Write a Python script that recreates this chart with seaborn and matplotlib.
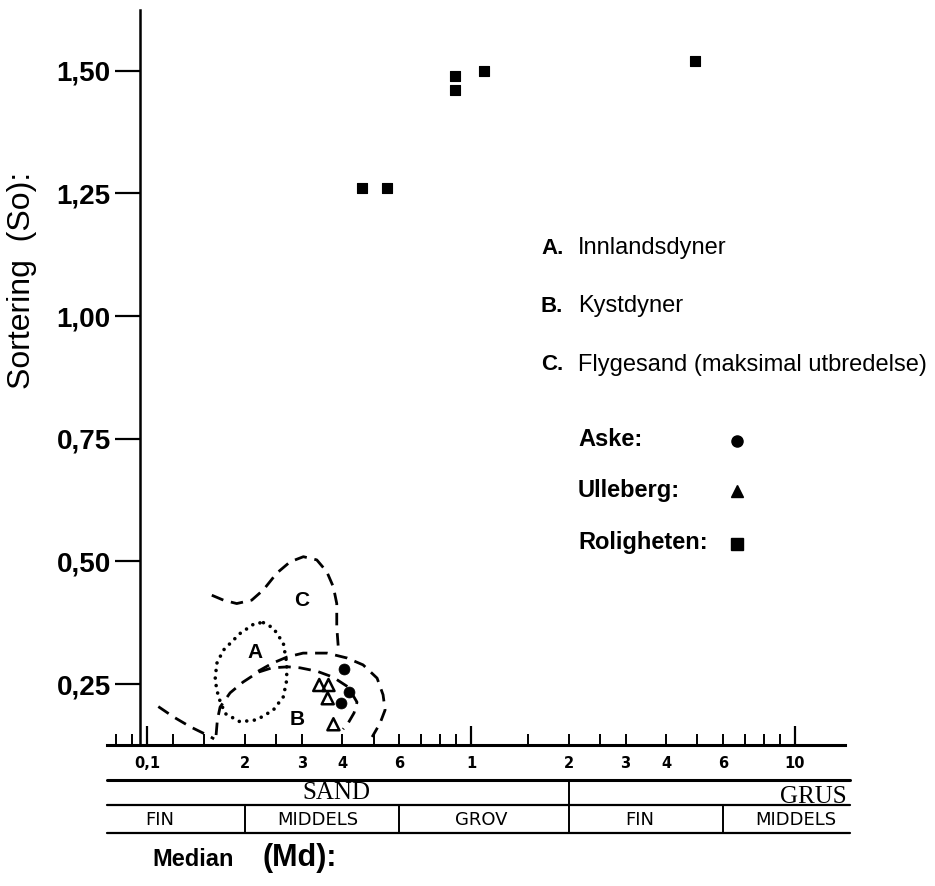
import numpy as np
import pandas as pd
import matplotlib
matplotlib.use("Agg")
import matplotlib.pyplot as plt
import matplotlib.transforms as mtransforms
from matplotlib.lines import Line2D
from matplotlib.ticker import FixedLocator, FuncFormatter
import seaborn as sns

# ---------------- data (median in mm, sortering) ----------------
roligheten_md = [0.46, 0.55, 0.89, 0.89, 1.10, 4.9]
roligheten_so = [1.26, 1.26, 1.49, 1.46, 1.50, 1.52]
aske_md = [0.406, 0.421, 0.397]
aske_so = [0.280, 0.233, 0.211]
ulleberg_md = [0.340, 0.363, 0.361, 0.376]
ulleberg_so = [0.248, 0.248, 0.221, 0.168]

# region outlines
a_md = [0.2286, 0.2453, 0.2634, 0.2698, 0.2698, 0.2634, 0.2453, 0.2181, 0.1936,
        0.1740, 0.1660, 0.1621, 0.1641, 0.1720, 0.1936, 0.2154, 0.2286]
a_so = [0.375, 0.364, 0.333, 0.292, 0.258, 0.224, 0.197, 0.177, 0.173,
        0.190, 0.224, 0.258, 0.292, 0.319, 0.353, 0.374, 0.375]
b_outer_md = [0.2201, 0.2430, 0.2704, 0.3031, 0.3594, 0.4143, 0.4642, 0.5128,
              0.5351, 0.5428, 0.5237, 0.4950]
b_outer_so = [0.276, 0.292, 0.305, 0.313, 0.313, 0.303, 0.289, 0.262,
              0.228, 0.197, 0.170, 0.142]
b_inner_md = [0.1633, 0.1648, 0.1680, 0.1804, 0.1978, 0.2201, 0.2430, 0.2723,
              0.2967, 0.3347, 0.3750, 0.4172, 0.4446, 0.4353, 0.4172, 0.4026]
b_inner_so = [0.146, 0.177, 0.203, 0.232, 0.254, 0.274, 0.283, 0.285,
              0.283, 0.276, 0.264, 0.244, 0.213, 0.191, 0.170, 0.158]
c_top_md = [0.1584, 0.1720, 0.1891, 0.2104, 0.2286, 0.2514, 0.2763, 0.3037,
            0.3340, 0.3586, 0.3758, 0.3850, 0.3850, 0.3894]
c_top_so = [0.431, 0.421, 0.414, 0.421, 0.442, 0.476, 0.499, 0.5095,
            0.503, 0.479, 0.448, 0.414, 0.367, 0.323]
c_low_md = [0.1083, 0.1206, 0.1358, 0.1564, 0.1610]
c_low_so = [0.204, 0.183, 0.163, 0.143, 0.138]

region_labels = ["A", "B", "C"]
region_label_md = [0.2154, 0.290, 0.301]
region_label_so = [0.315, 0.177, 0.421]

y_ticks = [0.25, 0.50, 0.75, 1.00, 1.25, 1.50]
y_ticklabels = ["0,25", "0,50", "0,75", "1,00", "1,25", "1,50"]
x_major = [0.1, 1, 10]
x_major_labels = ["0,1", "1", "10"]
x_minor = [0.08, 0.09, 0.12, 0.15, 0.2, 0.25, 0.3, 0.4, 0.5, 0.6, 0.7, 0.8, 0.9,
           1.5, 2, 2.5, 3, 4, 5, 6, 7, 8, 9]
x_minor_labelled = {0.2: "2", 0.3: "3", 0.4: "4", 0.6: "6",
                    2: "2", 3: "3", 4: "4", 6: "6"}

class_bounds = [0.2, 0.6, 2, 6]          # FIN | MIDDELS | GROV | FIN | MIDDELS
sand_grus_bound = 2
fraction_names = ["FIN", "MIDDELS", "GROV", "FIN", "MIDDELS"]
legend_regions = [("A.", "Innlandsdyner"), ("B.", "Kystdyner"),
                  ("C.", "Flygesand (maksimal utbredelse)")]
legend_sites = ["Aske:", "Ulleberg:", "Roligheten:"]

# ---------------- style ----------------
sns.set_theme(style="white")
plt.rcParams["font.family"] = ["Liberation Sans", "DejaVu Sans"]
plt.rcParams["text.color"] = "black"
plt.rcParams["axes.labelcolor"] = "black"
plt.rcParams["xtick.color"] = "black"
plt.rcParams["ytick.color"] = "black"

fig = plt.figure(figsize=(9.35, 8.86), dpi=100)
W, H = 935.0, 886.0
ax = fig.add_axes([107 / W, 141 / H, 738 / W, 735 / H])
ax.set_facecolor("white")
ax.set_xscale("log")
ax.set_xlim(0.0752, 14.27)
ax.set_ylim(0.1257, 1.6238)

# points
df_r = pd.DataFrame({"md": roligheten_md, "so": roligheten_so})
df_a = pd.DataFrame({"md": aske_md, "so": aske_so})
df_u = pd.DataFrame({"md": ulleberg_md, "so": ulleberg_so})
sns.scatterplot(data=df_r, x="md", y="so", marker="s", s=62, color="black",
                edgecolor="black", linewidth=0.8, ax=ax, zorder=5)
sns.scatterplot(data=df_a, x="md", y="so", marker="o", s=62, color="black",
                edgecolor="black", linewidth=0.5, ax=ax, zorder=5)
sns.scatterplot(data=df_u, x="md", y="so", marker="^", s=75, color="black",
                facecolor="none", edgecolor="black", linewidth=1.8, ax=ax, zorder=5)

# outlines
dash = (0, (4.5, 2.8))
ax.plot(a_md, a_so, color="black", lw=2.6, linestyle=(0, (0.01, 2.1)),
        dash_capstyle="round", solid_capstyle="round")
for xs, ys in [(b_outer_md, b_outer_so), (b_inner_md, b_inner_so),
               (c_top_md, c_top_so), (c_low_md, c_low_so)]:
    ax.plot(xs, ys, color="black", lw=2.0, linestyle=dash)
for lab, xm, ym in zip(region_labels, region_label_md, region_label_so):
    ax.text(xm, ym, lab, ha="center", va="center", fontsize=15,
            fontweight="bold", color="black")

# spines
for s in ["top", "right"]:
    ax.spines[s].set_visible(False)
ax.spines["left"].set_position(("data", 0.095))
ax.spines["left"].set_linewidth(1.8)
ax.spines["left"].set_color("black")
ax.spines["bottom"].set_linewidth(2.2)
ax.spines["bottom"].set_color("black")

# y ticks
ax.set_yticks(y_ticks)
ax.set_yticklabels(y_ticklabels, fontsize=20, fontweight="bold")
ax.tick_params(axis="y", direction="out", length=18, width=1.6, pad=3,
               left=True, color="black", labelcolor="black")

# x ticks
ax.xaxis.set_major_locator(FixedLocator(x_major))
ax.xaxis.set_major_formatter(FuncFormatter(
    lambda v, p: x_major_labels[int(np.argmin([abs(np.log10(v) - np.log10(t)) for t in x_major]))]))
ax.xaxis.set_minor_locator(FixedLocator(x_minor))
ax.xaxis.set_minor_formatter(FuncFormatter(
    lambda v, p: next((lab for k, lab in x_minor_labelled.items() if abs(k - v) < 1e-6), "")))
ax.tick_params(axis="x", which="major", direction="in", length=14, width=1.6,
               pad=8, bottom=True, labelsize=10.5, color="black", labelcolor="black")
ax.tick_params(axis="x", which="minor", direction="in", length=8, width=1.4,
               pad=8, bottom=True, labelsize=10.5, color="black", labelcolor="black")
for t in ax.xaxis.get_majorticklabels() + ax.xaxis.get_minorticklabels():
    t.set_fontweight("bold")
    t.set_family(["DejaVu Sans"])
ax.set_xlabel("")
ax.set_ylabel("")

# ---------------- size-class table below the axis ----------------
def fy(py):
    return 1 - py / H

for py, lw in [(780, 2.2), (805, 1.6), (833, 1.6)]:
    fig.add_artist(Line2D([107 / W, 850 / W], [fy(py), fy(py)], color="black", lw=lw))

blend = mtransforms.blended_transform_factory(ax.transData, fig.transFigure)
fig.add_artist(Line2D([sand_grus_bound, sand_grus_bound], [fy(780), fy(833)],
                      transform=blend, color="black", lw=1.4))
for b in class_bounds:
    if b == sand_grus_bound:
        continue
    fig.add_artist(Line2D([b, b], [fy(805), fy(833)], transform=blend,
                          color="black", lw=1.4))

fig.text(336 / W, fy(793), "SAND", ha="center", va="center", fontsize=18,
         family=["Liberation Serif"])
fig.text(847 / W, fy(797), "GRUS", ha="right", va="center", fontsize=18,
         family=["Liberation Serif"])
frac_x = [160, 318, 481, 640, 796]
for nm, xp in zip(fraction_names, frac_x):
    fig.text(xp / W, fy(820), nm, ha="center", va="center", fontsize=13,
             family=["DejaVu Sans"])

fig.text(152 / W, fy(860), "Median", ha="left", va="center", fontsize=17,
         fontweight="bold")
fig.text(262 / W, fy(858), "(Md):", ha="left", va="center", fontsize=22,
         fontweight="bold")

fig.text(22 / W, fy(280), "Sortering  (So):", ha="center", va="center",
         rotation=90, fontsize=23)

# ---------------- legend-like annotations ----------------
leg_y = [248, 306, 365]
for (let, txt), py in zip(legend_regions, leg_y):
    fig.text(541 / W, fy(py), let, ha="left", va="center", fontsize=16,
             fontweight="bold")
    fig.text(578 / W, fy(py), txt, ha="left", va="center", fontsize=17)

site_y = [440, 490, 543]
site_markers = ["o", "^", "s"]
for name, py, mk in zip(legend_sites, site_y, site_markers):
    fig.text(578 / W, fy(py), name, ha="left", va="center", fontsize=17,
             fontweight="bold")
    fig.add_artist(Line2D([737 / W], [fy(py + 1)], marker=mk, markersize=8,
                          color="black", markeredgecolor="black", linestyle="none"))

fig.savefig("out.png", dpi=100, facecolor="white")
